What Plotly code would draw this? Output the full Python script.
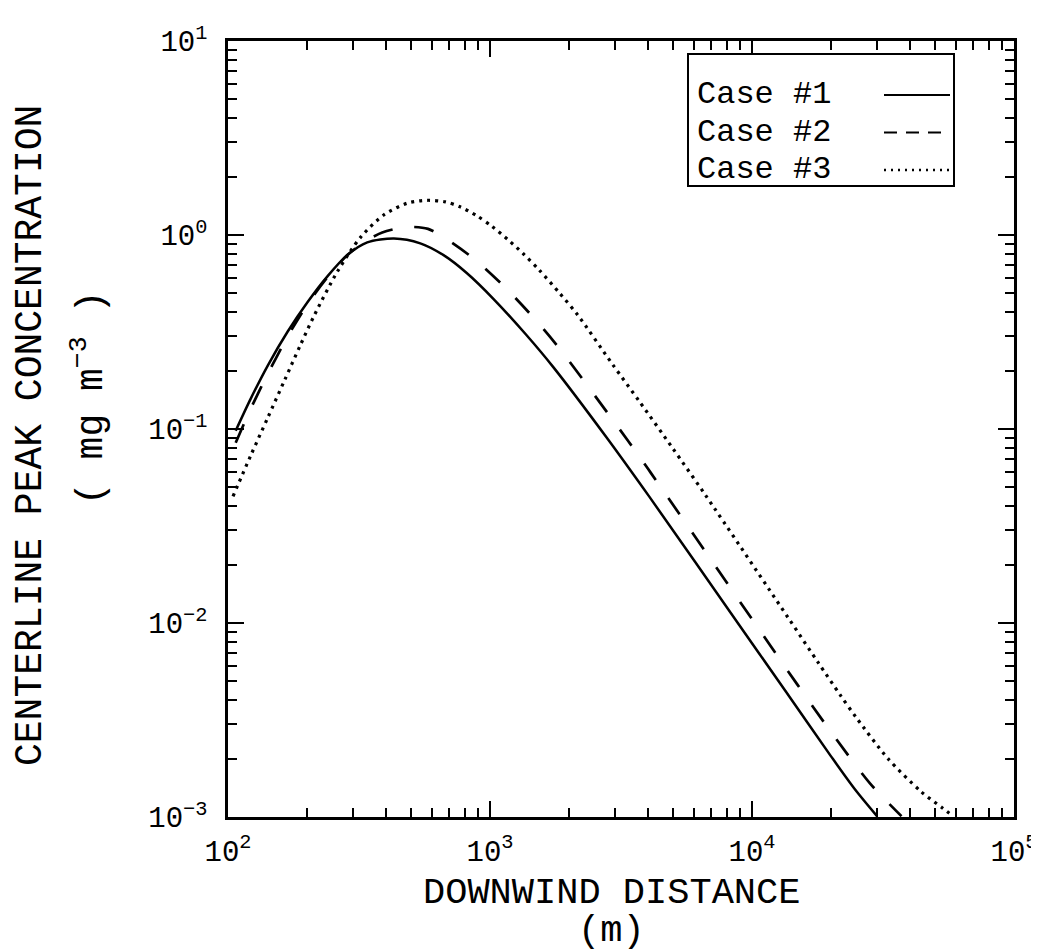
import plotly.graph_objects as go

# ---- data ----
x_case1 = [107, 122, 142, 169, 201, 240, 286, 340, 430, 542, 665, 815, 1030, 1377, 1741, 2773, 4055, 8800, 13400, 20000, 24700, 30000]
y_case1 = [0.098, 0.143, 0.213, 0.318, 0.45, 0.614, 0.79, 0.916, 0.96, 0.906, 0.787, 0.637, 0.469, 0.305, 0.209, 0.0912, 0.0448, 0.01007, 0.00447, 0.00206, 0.00139, 0.00101]

x_case2 = [107, 122, 142, 169, 201, 240, 286, 340, 388, 450, 507, 580, 665, 877, 1151, 1492, 1845, 2837, 3373, 4104, 10000, 14860, 20000, 28200, 37200]
y_case2 = [0.085, 0.127, 0.193, 0.300, 0.44, 0.607, 0.79, 0.94, 1.03, 1.085, 1.10, 1.075, 0.975, 0.746, 0.531, 0.365, 0.259, 0.119, 0.0865, 0.0596, 0.01047, 0.00484, 0.00275, 0.00149, 0.00101]

x_case3 = [104.5, 122, 142, 165, 189, 214, 262, 321, 394, 483, 575, 675, 769, 890, 1018, 1171, 1343, 1549, 1845, 2167, 2942, 3713, 4973, 6653, 13770, 17900, 21670, 25060, 33040, 44250, 53460, 58000]
y_case3 = [0.045, 0.0728, 0.1148, 0.1803, 0.271, 0.388, 0.650, 0.975, 1.271, 1.459, 1.51, 1.482, 1.397, 1.257, 1.106, 0.946, 0.798, 0.655, 0.501, 0.385, 0.2145, 0.139, 0.0798, 0.0455, 0.0106, 0.00624, 0.00427, 0.00324, 0.0020, 0.00135, 0.00111, 0.00102]

case_names = ["Case #1", "Case #2", "Case #3"]
x_major = [1e2, 1e3, 1e4, 1e5]
x_major_text = ["10<sup>2</sup>", "10<sup>3</sup>", "10<sup>4</sup>", "10<sup>5</sup>"]
y_major = [1e-3, 1e-2, 1e-1, 1e0, 1e1]
y_major_text = ["10<sup>\u22123</sup>", "10<sup>\u22122</sup>", "10<sup>\u22121</sup>", "10<sup>0</sup>", "10<sup>1</sup>"]

MONO = "Liberation Mono"
W, H = 1039, 950
L, R, T, B = 220, 33, 33, 141
PW, PH = W - L - R, H - T - B

def px(xp):
    return (xp - L) / PW

def py(yp):
    return (H - B - yp) / PH

styles = [
    dict(color="black", width=2.5, dash="solid"),
    dict(color="black", width=2.7, dash="20px,22px"),
    dict(color="black", width=3.2, dash="3px,5px"),
]
legend_dash = ["solid", "13px,9px", "2px,5px"]
legend_width = [2.2, 2.2, 2.4]

fig = go.Figure()
for xs, ys, name, st in zip([x_case1, x_case2, x_case3], [y_case1, y_case2, y_case3], case_names, styles):
    fig.add_trace(go.Scatter(x=xs, y=ys, mode="lines", name=name,
                             line=dict(shape="spline", smoothing=0.8, **st),
                             showlegend=False))

x_minor = [m * 10 ** e for e in range(2, 5) for m in range(2, 10)]
y_minor = [m * 10 ** e for e in range(-3, 1) for m in range(2, 10)]

axis_common = dict(
    showgrid=False, zeroline=False, showline=True, linecolor="black", linewidth=2.5,
    mirror="allticks", ticks="inside", ticklen=16, tickwidth=2, tickcolor="black",
    tickfont=dict(family=MONO, size=29, color="black"),
)

fig.update_xaxes(type="log", range=[2, 5], tickmode="array", tickvals=x_major, ticktext=x_major_text,
                 minor=dict(tickvals=x_minor, ticks="inside", ticklen=9, tickwidth=2, tickcolor="black"),
                 ticklabelstandoff=6, **axis_common)
fig.update_yaxes(type="log", range=[-3, 1], tickmode="array", tickvals=y_major, ticktext=y_major_text,
                 minor=dict(tickvals=y_minor, ticks="inside", ticklen=9, tickwidth=2, tickcolor="black"),
                 ticklabelstandoff=12, **axis_common)

# legend box (text on the left, line sample on the right, as in the reference)
shapes = [dict(type="rect", xref="paper", yref="paper", x0=px(680), x1=px(946), y0=py(178), y1=py(46),
               line=dict(color="black", width=2), fillcolor="white", layer="above")]
annotations = []
leg_y = [87, 124.5, 162]
for name, dsh, lw, yy in zip(case_names, legend_dash, legend_width, leg_y):
    annotations.append(dict(text=name, xref="paper", yref="paper", x=px(687), y=py(yy),
                            xanchor="left", yanchor="middle", showarrow=False,
                            font=dict(family=MONO, size=32, color="black")))
    shapes.append(dict(type="line", xref="paper", yref="paper", x0=px(876), x1=px(942), y0=py(yy), y1=py(yy),
                       line=dict(color="black", width=lw, dash=dsh), layer="above"))

# axis titles
annotations += [
    dict(text="DOWNWIND DISTANCE", xref="paper", yref="paper", x=px(603), y=py(885),
         xanchor="center", yanchor="middle", showarrow=False, font=dict(family=MONO, size=37, color="black")),
    dict(text="(m)", xref="paper", yref="paper", x=px(603), y=py(923),
         xanchor="center", yanchor="middle", showarrow=False, font=dict(family=MONO, size=37, color="black")),
    dict(text="CENTERLINE PEAK CONCENTRATION", xref="paper", yref="paper", x=px(22), y=py(428),
         xanchor="center", yanchor="middle", textangle=-90, showarrow=False,
         font=dict(family=MONO, size=38, color="black")),
    dict(text="( mg m<sup>\u22123</sup> )", xref="paper", yref="paper", x=px(80), y=py(390),
         xanchor="center", yanchor="middle", textangle=-90, showarrow=False,
         font=dict(family=MONO, size=38, color="black")),
]

fig.update_layout(width=W, height=H, margin=dict(l=L, r=R, t=T, b=B, autoexpand=False),
                  paper_bgcolor="white", plot_bgcolor="white",
                  shapes=shapes, annotations=annotations, showlegend=False)

fig.write_html("out.html")
